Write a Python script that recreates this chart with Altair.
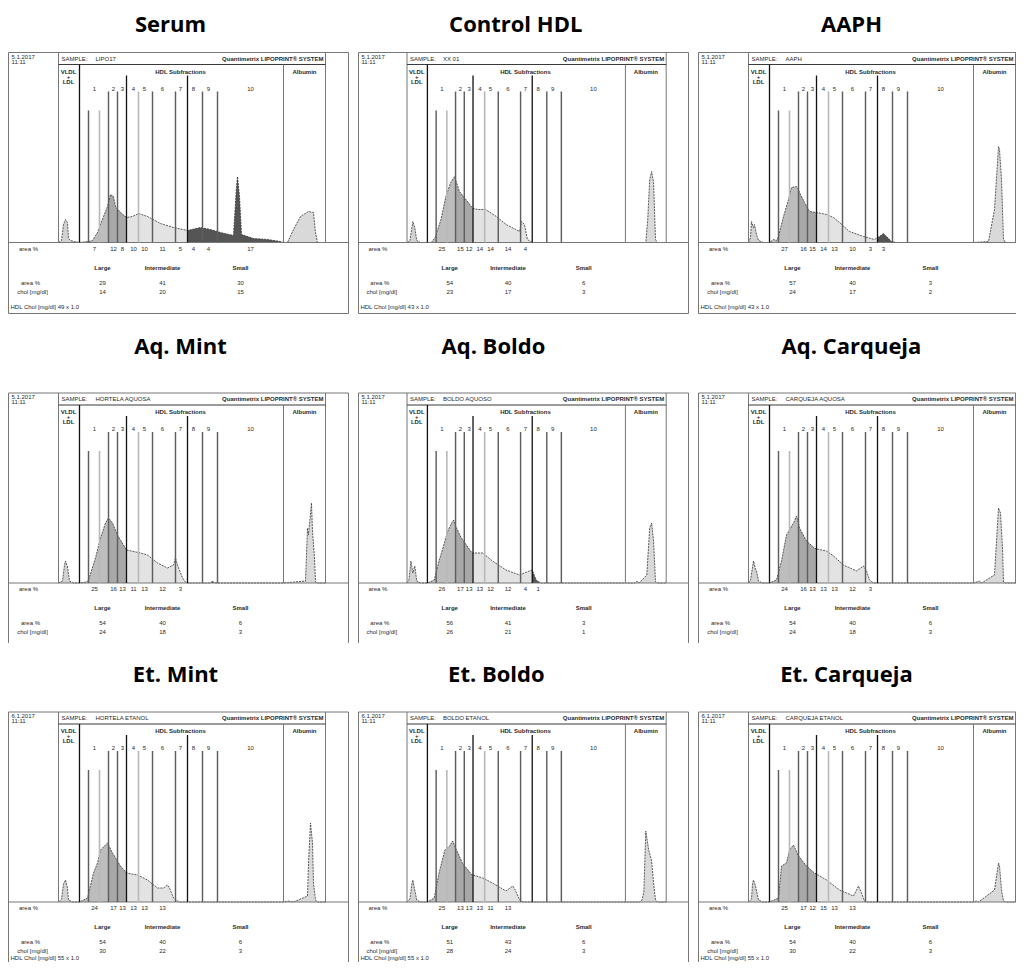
import altair as alt
import pandas as pd

# ---------------- data ----------------
PANEL_TITLES = ["Serum", "Control HDL", "AAPH",
                "Aq. Mint", "Aq. Boldo", "Aq. Carqueja",
                "Et. Mint", "Et. Boldo", "Et. Carqueja"]
SAMPLE_NAMES = ["LIPO17", "XX 01", "AAPH",
                "HORTELA AQUOSA", "BOLDO AQUOSO", "CARQUEJA AQUOSA",
                "HORTELA ETANOL", "BOLDO ETANOL", "CARQUEJA ETANOL"]
RUN_DATES = ["5.1.2017", "5.1.2017", "5.1.2017",
             "5.1.2017", "5.1.2017", "5.1.2017",
             "6.1.2017", "6.1.2017", "6.1.2017"]

# densitometric scan: mobility position / height above baseline
SERUM_X = [50, 53, 55, 57, 59, 60, 62, 66, 71, 80, 84, 89, 95, 99, 100, 102, 105, 107, 112, 118, 124, 130, 139, 152,
           165, 179, 192, 202, 212, 225, 228, 229, 231, 233, 245, 259, 272, 275, 279, 285, 292, 300, 305, 307, 309, 317]
SERUM_H = [0, 2, 18, 23, 20, 4, 2, 1, 0, 1, 2, 10, 26, 36, 40, 48, 46, 36, 30, 25, 26, 29, 26, 19,
           15, 12, 15, 13, 10, 7, 56, 66, 46, 8, 4, 3, 1, 0, 0, 13, 26, 31, 30, 10, 0, 0]

CONTROL_X = [50, 53, 55, 56, 58, 60, 64, 71, 75, 79, 85, 90, 95, 99, 100, 101, 104, 109, 117, 118, 123, 131, 142, 152,
             162, 166, 168, 171, 174, 179, 275, 296, 298, 300, 302, 304, 306, 308, 317]
CONTROL_H = [0, 2, 15, 21, 15, 2, 0, 0, 0, 5, 23, 46, 60, 66, 63, 60, 51, 45, 35, 34, 33, 33, 26, 18,
             13, 11, 21, 18, 3, 0, 0, 0, 23, 63, 71, 60, 3, 0, 0]

AAPH_X = [50, 52, 53, 55, 56, 58, 60, 65, 71, 75, 78, 80, 85, 90, 93, 98, 100, 101, 106, 111, 118, 128, 135, 141,
          151, 165, 176, 179, 181, 185, 188, 193, 198, 275, 290, 296, 300, 301, 303, 305, 307, 317]
AAPH_H = [0, 5, 21, 15, 18, 8, 2, 0, 0, 3, 2, 6, 26, 43, 55, 56, 53, 50, 40, 31, 30, 28, 25, 20,
          11, 6, 3, 5, 6, 9, 6, 1, 0, 0, 1, 33, 96, 93, 63, 3, 0, 0]

AQ_MINT_X = [50, 54, 56, 57, 59, 61, 65, 71, 78, 80, 87, 92, 97, 100, 104, 109, 118, 132, 139, 149, 159, 165, 167,
             169, 174, 177, 179, 202, 204, 206, 275, 297, 299, 300, 303, 304, 306, 307, 309, 317]
AQ_MINT_H = [0, 2, 18, 22, 16, 2, 0, 0, 1, 3, 25, 45, 60, 65, 60, 48, 33, 30, 28, 20, 15, 18, 25,
             18, 5, 1, 0, 0, 2, 0, 0, 2, 55, 48, 80, 52, 25, 1, 0, 0]

AQ_BOLDO_X = [50, 52, 54, 56, 58, 60, 64, 71, 78, 83, 87, 92, 96, 98, 100, 101, 106, 117, 118, 128, 138, 152, 166,
              176, 179, 183, 186, 188, 275, 285, 287, 289, 297, 300, 302, 304, 306, 308, 317]
AQ_BOLDO_H = [0, 3, 22, 10, 17, 2, 0, 0, 3, 22, 35, 52, 60, 63, 57, 55, 45, 30, 30, 30, 22, 13, 8,
              12, 13, 3, 1, 0, 0, 0, 2, 0, 8, 55, 60, 42, 1, 0, 0]

AQ_CARQ_X = [50, 52, 55, 57, 58, 60, 64, 71, 78, 83, 88, 95, 98, 100, 101, 108, 116, 118, 128, 135, 145, 158, 165,
             168, 171, 175, 179, 275, 281, 283, 296, 300, 302, 304, 305, 307, 317]
AQ_CARQ_H = [0, 3, 22, 14, 12, 2, 0, 0, 3, 22, 48, 60, 67, 60, 55, 42, 35, 34, 32, 27, 18, 12, 17,
             12, 3, 0, 0, 0, 2, 0, 8, 75, 70, 35, 1, 0, 0]

ET_MINT_X = [50, 53, 55, 57, 59, 60, 64, 71, 79, 85, 89, 92, 96, 99, 100, 104, 112, 118, 129, 139, 149, 155, 159,
             161, 165, 169, 172, 179, 275, 280, 285, 299, 300, 302, 304, 305, 307, 309, 317]
ET_MINT_H = [0, 3, 18, 22, 14, 2, 0, 0, 4, 29, 39, 52, 56, 59, 57, 49, 36, 29, 27, 22, 14, 14, 17,
             14, 4, 1, 0, 0, 0, 1, 0, 6, 39, 79, 59, 19, 2, 0, 0]

ET_BOLDO_X = [50, 53, 55, 56, 58, 60, 64, 71, 78, 83, 89, 94, 97, 100, 101, 107, 117, 118, 128, 138, 152, 159, 162,
              166, 170, 179, 275, 290, 292, 294, 296, 299, 302, 304, 306, 308, 317]
ET_BOLDO_H = [0, 3, 18, 22, 12, 2, 0, 0, 4, 29, 52, 56, 61, 54, 52, 39, 27, 27, 24, 19, 11, 16, 11,
              2, 0, 0, 0, 0, 2, 10, 71, 52, 41, 19, 2, 0, 0]

ET_CARQ_X = [50, 53, 54, 55, 57, 60, 64, 71, 80, 83, 88, 91, 95, 100, 108, 116, 118, 128, 141, 155, 160, 163, 166,
             170, 179, 275, 278, 280, 296, 300, 301, 303, 305, 307, 317]
ET_CARQ_H = [0, 3, 18, 22, 16, 2, 0, 0, 4, 36, 39, 52, 57, 46, 36, 29, 28, 22, 12, 6, 16, 9, 1,
             0, 0, 0, 1, 0, 12, 39, 36, 12, 1, 0, 0]

# subfraction area % row (subfractions 1..10)
SERUM_SUB = ["7", "12", "8", "10", "10", "11", "5", "4", "4", "17"]
CONTROL_SUB = ["25", "15", "12", "14", "14", "14", "4", "", "", ""]
AAPH_SUB = ["27", "16", "15", "14", "13", "10", "3", "3", "", ""]
AQ_MINT_SUB = ["25", "16", "13", "11", "13", "12", "3", "", "", ""]
AQ_BOLDO_SUB = ["26", "17", "13", "13", "12", "12", "4", "1", "", ""]
AQ_CARQ_SUB = ["24", "16", "13", "13", "13", "12", "3", "", "", ""]
ET_MINT_SUB = ["24", "17", "13", "13", "13", "13", "", "", "", ""]
ET_BOLDO_SUB = ["25", "13", "13", "13", "11", "13", "", "", "", ""]
ET_CARQ_SUB = ["25", "17", "12", "15", "13", "13", "", "", "", ""]

# Large / Intermediate / Small
SERUM_AREA = [29, 41, 30];    SERUM_CHOL = [14, 20, 15]
CONTROL_AREA = [54, 40, 6];   CONTROL_CHOL = [23, 17, 3]
AAPH_AREA = [57, 40, 3];      AAPH_CHOL = [24, 17, 2]
AQ_MINT_AREA = [54, 40, 6];   AQ_MINT_CHOL = [24, 18, 3]
AQ_BOLDO_AREA = [56, 41, 3];  AQ_BOLDO_CHOL = [26, 21, 1]
AQ_CARQ_AREA = [54, 40, 6];   AQ_CARQ_CHOL = [24, 18, 3]
ET_MINT_AREA = [54, 40, 6];   ET_MINT_CHOL = [30, 22, 3]
ET_BOLDO_AREA = [51, 43, 6];  ET_BOLDO_CHOL = [28, 24, 3]
ET_CARQ_AREA = [54, 40, 6];   ET_CARQ_CHOL = [30, 22, 3]
HDL_CHOL = [49, 43, 43, 45, 48, 45, 55, 55, 55]

SUBFRACTION_LABELS = ["1", "2", "3", "4", "5", "6", "7", "8", "9", "10"]
SUBFRACTION_POS = [86, 105, 114, 125, 136, 154, 172, 185, 200, 242]
LINE_POS = [71, 80, 91, 100, 109, 118, 130, 144, 167, 179, 194, 209]
LINE_TOP = [178, 132, 132, 151, 151, 167, 151, 151, 151, 167, 151, 151]
LINE_KIND = ["thick", "mid", "light", "mid", "mid", "thick", "light", "mid", "mid", "thick", "mid", "mid"]
GROUP_NAMES = ["Large", "Intermediate", "Small"]
GROUP_POS = [94, 154, 232]

ZONE_EDGES = [50, 71, 100, 118, 179, 275, 317]
ZONE_NAMES = ["VLDL+LDL", "Large 1", "Large 2-3", "Intermediate", "Small", "Albumin"]

CURVES = [(SERUM_X, SERUM_H), (CONTROL_X, CONTROL_H), (AAPH_X, AAPH_H),
          (AQ_MINT_X, AQ_MINT_H), (AQ_BOLDO_X, AQ_BOLDO_H), (AQ_CARQ_X, AQ_CARQ_H),
          (ET_MINT_X, ET_MINT_H), (ET_BOLDO_X, ET_BOLDO_H), (ET_CARQ_X, ET_CARQ_H)]
SUBS = [SERUM_SUB, CONTROL_SUB, AAPH_SUB, AQ_MINT_SUB, AQ_BOLDO_SUB, AQ_CARQ_SUB,
        ET_MINT_SUB, ET_BOLDO_SUB, ET_CARQ_SUB]
AREAS = [SERUM_AREA, CONTROL_AREA, AAPH_AREA, AQ_MINT_AREA, AQ_BOLDO_AREA, AQ_CARQ_AREA,
         ET_MINT_AREA, ET_BOLDO_AREA, ET_CARQ_AREA]
CHOLS = [SERUM_CHOL, CONTROL_CHOL, AAPH_CHOL, AQ_MINT_CHOL, AQ_BOLDO_CHOL, AQ_CARQ_CHOL,
         ET_MINT_CHOL, ET_BOLDO_CHOL, ET_CARQ_CHOL]

# ---------------- layout / style (kept apart from the data) ----------------
ZONE_COLORS = ["#d2d2d2", "#bdbdbd", "#a8a8a8", "#e3e3e3", "#555555", "#d9d9d9"]
KINDS = ["frame", "header", "thick", "mid", "light"]
KIND_COLORS = ["#777777", "#3a3a3a", "#111111", "#5e5e5e", "#b8b8b8"]
KIND_WIDTHS = [1, 1.6, 2, 1.1, 1.1]
FRAME_SEGS = [  # x, y, x2, y2, kind  (panel design units)
    (0, -71, 0, 190, "frame"), (340, -71, 340, 190, "frame"),
    (0, 190, 340, 190, "frame"), (0, 0, 340, 0, "frame"), (0, -71, 340, -71, "frame"),
    (50, 0, 50, 190, "frame"), (317, 0, 317, 190, "frame"),
    (50, 178, 317, 178, "header"), (275, 0, 275, 178, "frame"),
]
COL_WIDTHS = [341, 331, 318]
COL_XMAX = [340.5, 340.5, 317.5]
ROW_YDOM = [(-71.5, 234.5), (-60, 269), (-60, 259)]
ROW_HEIGHTS = [306, 329, 319]
HDL_ROW_Y = [-64, None, -56]   # row 2 scans are cut above this line in the figure
TITLE_Y = [218, 236, 227]
TITLE_X = [162, 162, 153, 172, 139, 153, 167, 142, 148]
TINY = dict(font="Liberation Sans", fontSize=6, color="#2a2a2a", clip=True)


def panel(i):
    r, c = divmod(i, 3)
    xs, hs = CURVES[i]
    xsc = alt.Scale(domain=[-0.5, COL_XMAX[c]], nice=False, zero=False)
    ysc = alt.Scale(domain=list(ROW_YDOM[r]), nice=False, zero=False)
    X = alt.X("x:Q", scale=xsc, axis=None)
    Y = alt.Y("y:Q", scale=ysc, axis=None, stack=None)

    zone_rows = []
    for k, name in enumerate(ZONE_NAMES):
        lo, hi = ZONE_EDGES[k], ZONE_EDGES[k + 1]
        for x, h in zip(xs, hs):
            if lo <= x <= hi:
                zone_rows.append({"x": x, "y": h, "y0": 0, "zone": name})
    area = alt.Chart(pd.DataFrame(zone_rows)).mark_area(clip=True, interpolate="linear").encode(
        x=X, y=Y, y2="y0:Q",
        color=alt.Color("zone:N", scale=alt.Scale(domain=ZONE_NAMES, range=ZONE_COLORS), legend=None))

    curve = pd.DataFrame({"x": xs, "y": hs, "i": list(range(len(xs)))})
    outline = alt.Chart(curve).mark_line(clip=True, color="#333333", strokeWidth=0.8,
                                         strokeDash=[2, 1]).encode(x=X, y=Y, order="i:Q")

    seg_rows = [{"x": a, "y": b, "x2": a2, "y2": b2, "kind": k} for a, b, a2, b2, k in FRAME_SEGS]
    seg_rows += [{"x": p, "y": 0, "x2": p, "y2": t, "kind": k} for p, t, k in zip(LINE_POS, LINE_TOP, LINE_KIND)]
    rules = alt.Chart(pd.DataFrame(seg_rows)).mark_rule(clip=True).encode(
        x=X, x2="x2:Q", y=Y, y2="y2:Q",
        color=alt.Color("kind:N", scale=alt.Scale(domain=KINDS, range=KIND_COLORS), legend=None),
        strokeWidth=alt.StrokeWidth("kind:N", scale=alt.Scale(domain=KINDS, range=KIND_WIDTHS), legend=None))

    # centred small text
    cen = [{"x": p, "y": 154, "t": s} for p, s in zip(SUBFRACTION_POS, SUBFRACTION_LABELS)]
    cen += [{"x": p, "y": -6, "t": s} for p, s in zip(SUBFRACTION_POS, SUBS[i]) if s]
    cen += [{"x": p, "y": -40, "t": str(v)} for p, v in zip(GROUP_POS, AREAS[i])]
    cen += [{"x": p, "y": -49, "t": str(v)} for p, v in zip(GROUP_POS, CHOLS[i])]
    cen += [{"x": 20, "y": -6, "t": "area %"}, {"x": 22, "y": -40, "t": "area %"},
            {"x": 24, "y": -49, "t": "chol [mg/dl]"}]
    bold = [{"x": p, "y": -25, "t": s} for p, s in zip(GROUP_POS, GROUP_NAMES)]
    bold += [{"x": 172, "y": 171, "t": "HDL Subfractions"}, {"x": 296, "y": 171, "t": "Albumin"},
             {"x": 60, "y": 171, "t": "VLDL"}, {"x": 60, "y": 166, "t": "+"}, {"x": 60, "y": 161, "t": "LDL"}]
    left = [{"x": 3, "y": 186, "t": RUN_DATES[i]}, {"x": 3, "y": 181, "t": "11:11"},
            {"x": 53, "y": 184, "t": "SAMPLE:"}, {"x": 87, "y": 184, "t": SAMPLE_NAMES[i]}]
    if HDL_ROW_Y[r] is not None:
        left.append({"x": 2, "y": HDL_ROW_Y[r], "t": "HDL Chol [mg/dl]     %d     x 1.0" % HDL_CHOL[i]})
    right = [{"x": 315, "y": 184, "t": "Quantimetrix LIPOPRINT\u00ae SYSTEM"}]

    def txt(rows, **kw):
        return alt.Chart(pd.DataFrame(rows)).mark_text(**{**TINY, **kw}).encode(
            x=X, y=alt.Y("y:Q", scale=ysc, axis=None), text="t:N")

    t_cen = txt(cen, align="center", baseline="middle")
    t_bold = txt(bold, align="center", baseline="middle", fontWeight="bold")
    t_left = txt(left, align="left", baseline="middle")
    t_right = txt(right, align="right", baseline="middle", fontWeight="bold")
    title = alt.Chart(pd.DataFrame([{"x": TITLE_X[i], "y": TITLE_Y[r], "t": PANEL_TITLES[i]}])).mark_text(
        font="Open Sans", fontSize=22, fontWeight="bold", color="#000000", align="center",
        baseline="middle", clip=True).encode(x=X, y=alt.Y("y:Q", scale=ysc, axis=None), text="t:N")

    return alt.layer(area, outline, rules, t_cen, t_bold, t_left, t_right, title).resolve_scale(
        color="independent").properties(width=COL_WIDTHS[c], height=ROW_HEIGHTS[r])


rows = [alt.hconcat(*[panel(r * 3 + c) for c in range(3)], spacing=9) for r in range(3)]
chart = alt.vconcat(*rows, spacing=0).properties(padding=0, background="white").configure_view(stroke=None)

chart.save("out.html", embed_options={"renderer": "svg", "actions": False})
